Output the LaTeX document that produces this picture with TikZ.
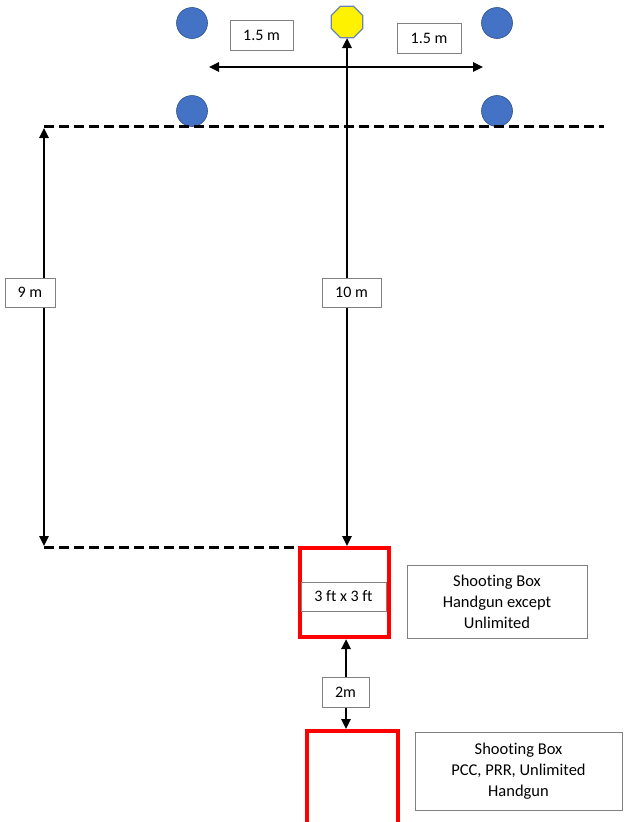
\documentclass[tikz,border=0pt]{standalone}
\usepackage{fontspec}
\setmainfont[Ligatures=NoCommon]{Carlito}
\usetikzlibrary{arrows.meta,shapes.geometric}
\definecolor{tblue}{HTML}{4472C4}
\definecolor{tedge}{HTML}{2F528F}
\definecolor{pedge}{HTML}{6A85AE}
\begin{document}
\begin{tikzpicture}[x=1pt,y=-1pt,
  target/.style={circle,fill=tblue,draw=tedge,line width=0.6pt,minimum size=31pt,inner sep=0pt},
  popper/.style={regular polygon,regular polygon sides=8,fill=yellow,draw=pedge,line width=1.2pt,minimum size=34pt,inner sep=0pt},
  lbl/.style={draw=gray,line width=0.8pt,fill=white,font=\fontsize{16}{18}\selectfont,inner sep=0pt,anchor=center},
  info/.style={draw=gray,line width=0.8pt,fill=white,font=\fontsize{16.5}{21}\selectfont,align=center,inner sep=0pt,anchor=center},
  dim/.style={line width=2.4pt,{Triangle[length=10pt,width=9pt]}-{Triangle[length=10pt,width=9pt]}},
  fault/.style={line width=3pt,dash pattern=on 10pt off 5pt},
  redbox/.style={draw=red,line width=4pt}
]
\useasboundingbox (0,0) rectangle (624,822);
% targets
\node[target] (t1) at (192,23) {};
\node[target] (t2) at (497,23) {};
\node[target] (t3) at (192,111) {};
\node[target] (t4) at (497,111) {};
\node[popper] (p) at (347,22) {};
% fault lines
\coordinate (f1a) at (44,126);
\coordinate (f1b) at (604,126);
\coordinate (f2a) at (44,547);
\coordinate (f2b) at (300,547);
\draw[fault] (f1a) -- (f1b);
\draw[fault] (f2a) -- (f2b);
% red boxes
\draw[redbox] (300,548) rectangle (389,637);
\coordinate (b1top) at (347,546);
\coordinate (b1bot) at (346,639);
\draw[redbox] (307,731) rectangle (398,830);
\coordinate (b2top) at (346,729);
% horizontal arrow
\coordinate (ha) at (209,67);
\coordinate (hb) at (483,67);
\draw[dim] (ha) -- (hb);
% 10 m arrow
\coordinate (pb) at (347,38);
\draw[dim] (b1top) -- (pb);
% 9 m arrow
\coordinate (n1) at (44,128);
\coordinate (n2) at (44,546);
\draw[dim] (n1) -- (n2);
% 2m arrow
\draw[dim] (b1bot) -- (b2top);
% labels
\node[lbl,minimum width=63pt,minimum height=30pt] (l15a) at (261.5,35) {1.5 m};
\node[lbl,minimum width=64pt,minimum height=30pt] (l15b) at (429,38) {1.5 m};
\node[lbl,minimum width=50pt,minimum height=29pt] (l9) at (30,292.5) {9 m};
\node[lbl,minimum width=59pt,minimum height=29pt] (l10) at (351.5,292.5) {10 m};
\node[lbl,minimum width=85pt,minimum height=29pt] (l3ft) at (343.5,596.5) {3 ft x 3 ft};
\node[lbl,minimum width=47pt,minimum height=30pt] (l2m) at (345.5,692) {2m};
\node[info,minimum width=180pt,minimum height=73pt] (i1) at (497,601.5) {Shooting Box\\Handgun except\\Unlimited};
\node[info,minimum width=207pt,minimum height=78pt] (i2) at (518.5,771) {Shooting Box\\PCC, PRR, Unlimited\\Handgun};
\end{tikzpicture}
\end{document}
